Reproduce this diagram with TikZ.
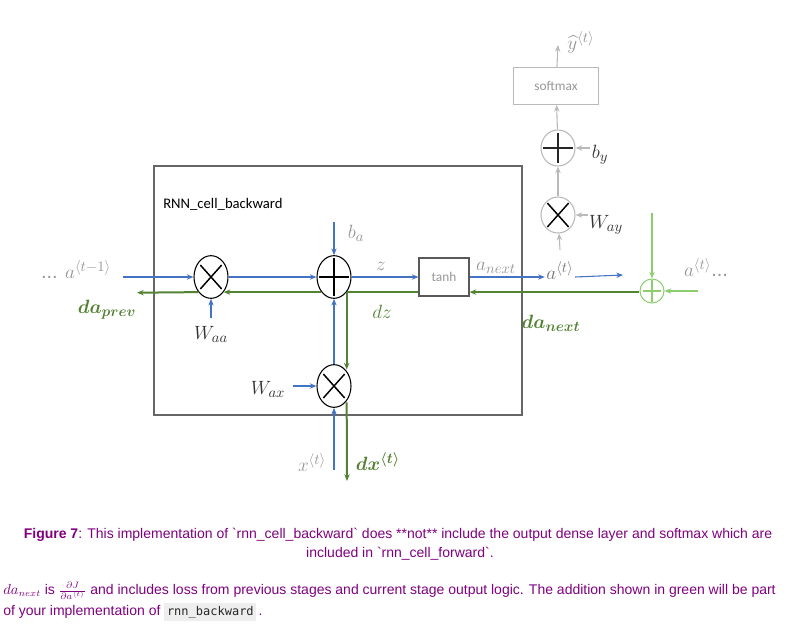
\documentclass[tikz,border=0pt]{standalone}
\usepackage{amsmath,bm}
\usepackage{fontspec}
\setmainfont{Liberation Sans}
\setmonofont{DejaVu Sans Mono}
\newfontfamily\carlito{Carlito}
\usetikzlibrary{shapes.geometric,arrows.meta}
\definecolor{blu}{RGB}{68,114,196}
\definecolor{grn}{RGB}{84,130,53}
\definecolor{lgrn}{RGB}{140,205,110}
\definecolor{txtgray}{RGB}{150,150,150}
\definecolor{fadegray}{RGB}{185,185,185}
\definecolor{capcol}{RGB}{128,0,128}
\definecolor{codebg}{RGB}{238,238,238}
\newcommand\lblsize{\fontsize{15}{18}\selectfont}
\newcommand\capsize{\fontsize{10.5}{12}\selectfont}

\begin{document}
\begin{tikzpicture}[x=0.75pt, y=-0.75pt, >={Stealth[length=5pt,width=4pt]},
    mul/.style={ellipse, draw, thick, minimum width=25.5pt, minimum height=32pt, inner sep=0pt,
      path picture={\draw[black, line width=1.1pt] ([shift={(-8pt,-9pt)}]path picture bounding box.center) -- ([shift={(8pt,9pt)}]path picture bounding box.center);
        \draw[black, line width=1.1pt] ([shift={(-8pt,9pt)}]path picture bounding box.center) -- ([shift={(8pt,-9pt)}]path picture bounding box.center);}},
    add/.style={ellipse, draw, thick, minimum width=25.5pt, minimum height=32pt, inner sep=0pt,
      path picture={\draw[black, line width=1.3pt] ([xshift=-11pt]path picture bounding box.center) -- ([xshift=11pt]path picture bounding box.center);
        \draw[black, line width=1.3pt] ([yshift=-14pt]path picture bounding box.center) -- ([yshift=14pt]path picture bounding box.center);}},
    box/.style={draw, inner sep=0pt, font=\carlito\normalsize, text=txtgray},
    lbl/.style={font=\lblsize, text=txtgray, inner sep=1pt},
    dlbl/.style={font=\lblsize, text=black!80, inner sep=1pt},
    glbl/.style={font=\lblsize, text=grn, inner sep=1pt},
    bl/.style={->, blu, line width=0.8pt},
    gr/.style={grn, line width=1.5pt},
    gy/.style={->, fadegray, line width=0.8pt}]

    \useasboundingbox (0,0) rectangle (799,632);

    % cell
    \draw[black!60, line width=1.6pt] (154,166) rectangle (522,415);
    \node[anchor=west, font=\carlito\fontsize{11}{13}\selectfont, inner sep=0pt] (title) at (163,204) {RNN\_cell\_backward};

    % gates
    \node[mul] (mulA) at (211,277) {};
    \node[add] (plusA) at (334,277) {};
    \node[box, draw=black!65, thick, minimum width=37.5pt, minimum height=28.5pt] (tanh) at (444,277) {tanh};
    \node[mul] (mulX) at (334,386) {};

    % output layer
    \node[mul, draw=fadegray, minimum height=27pt] (mulY) at (558,215) {};
    \node[add, draw=fadegray, minimum height=27pt,
      path picture={\draw[black!85, line width=1.3pt] ([xshift=-11pt]path picture bounding box.center) -- ([xshift=11pt]path picture bounding box.center);
        \draw[black!85, line width=1.3pt] ([yshift=-11pt]path picture bounding box.center) -- ([yshift=11pt]path picture bounding box.center);}] (plusY) at (558,148) {};
    \node[box, draw=fadegray, minimum width=64pt, minimum height=28pt] (soft) at (556,86) {softmax};
    \node[circle, draw=lgrn, thick, minimum size=18pt, inner sep=0pt,
      path picture={\draw[lgrn, thick] ([xshift=-7pt]path picture bounding box.center) -- ([xshift=7pt]path picture bounding box.center);
        \draw[lgrn, thick] ([yshift=-8pt]path picture bounding box.center) -- ([yshift=8pt]path picture bounding box.center);}] (gplus) at (652,291) {};

    % labels
    \node[lbl] (aprev) at (76,270) {... $a^{\langle t-1\rangle}$};
    \node[glbl] (daprev) at (107,310) {$\bm{da_{prev}}$};
    \node[dlbl] (Waa) at (211,334) {$W_{aa}$};
    \node[dlbl] (Wax) at (268,389) {$W_{ax}$};
    \node[lbl] (ba) at (356,233) {$b_a$};
    \node[lbl] (z) at (381,266) {$z$};
    \node[lbl] (anext) at (496,268) {$a_{next}$};
    \node[glbl] (dz) at (382,312) {$dz$};
    \node[glbl] (danext) at (551,323) {$\bm{da_{next}}$};
    \node[font=\lblsize, text=black!55, inner sep=1pt] (at) at (560,271) {$a^{\langle t\rangle}$};
    \node[lbl] (atdots) at (706,268) {$a^{\langle t\rangle}$...};
    \node[dlbl] (Way) at (606,225) {$W_{ay}$};
    \node[dlbl] (by) at (600,155) {$b_y$};
    \node[lbl] (yhat) at (581,42) {$\widehat{y}^{\langle t\rangle}$};
    \node[lbl] (xt) at (312,463) {$x^{\langle t\rangle}$};
    \node[glbl] (dxt) at (378,462) {$\bm{dx^{\langle t\rangle}}$};

    % free ends
    \coordinate (aprevS) at (123,277);
    \coordinate (baS) at (334,222);
    \coordinate (WaaS) at (211,318);
    \coordinate (WaxS) at (293,386);
    \coordinate (xS) at (334,470);
    \coordinate (dxE) at (347,481);
    \coordinate (dapE) at (137,292.7);
    \coordinate (atE) at (623,275);
    \coordinate (yE) at (558,45);
    \coordinate (gtop) at (652,213);
    \coordinate (gright) at (698,291);
    \coordinate (gjoin) at (plusA.-50);

    % forward (blue)
    \draw[bl] (aprevS) -- (mulA);
    \draw[bl] (mulA) -- (plusA);
    \draw[bl] (plusA) -- (tanh);
    \draw[bl] (tanh.east) -- (at.west |- tanh.east);
    \draw[bl] (at.east |- tanh.east) -- (atE);
    \draw[bl] (baS) -- (plusA);
    \draw[bl] (WaaS) -- (mulA);
    \draw[bl] (WaxS) -- (mulX);
    \draw[bl] (xS) -- (mulX);
    \draw[bl] (mulX) -- (plusA);

    % output layer (grey)
    \draw[gy] ([yshift=8pt]at.north) -- (mulY);
    \draw[gy] (mulY) -- (plusY);
    \draw[gy] (plusY) -- (soft);
    \draw[gy] (soft) -- (yE);
    \draw[gy] (Way.west |- mulY) -- (mulY);
    \draw[gy] (by.west |- plusY) -- (plusY);

    % backward (green)
    \draw[gr, ->] (gplus.west |- gjoin) -- (tanh.east |- gjoin);
    \draw[gr] (tanh.west |- gjoin) -- (gjoin);
    \draw[gr, ->] (plusA.-130) -- (mulA.-50);
    \draw[gr, ->] (mulA.-130) -- (dapE);
    \draw[gr, ->] (gjoin) -- (gjoin |- mulX.55);
    \draw[gr, ->] (gjoin |- mulX.-55) -- (dxE);
    \draw[lgrn, thick, ->] (gtop) -- (gplus);
    \draw[lgrn, thick, ->] (gright) -- (gplus);

    % caption
    \node[text=capcol, font=\capsize, inner sep=0pt] (cap1) at (398,535)
      {\textbf{Figure 7}: This implementation of \textasciigrave rnn\_cell\_backward\textasciigrave{} does **not** include the output dense layer and softmax which are};
    \node[text=capcol, font=\capsize, inner sep=0pt] (cap2) at (400,554)
      {included in \textasciigrave rnn\_cell\_forward\textasciigrave.};
    \node[text=capcol, font=\capsize, anchor=west, inner sep=0pt] (note1) at (3,591)
      {$da_{next}$ is $\frac{\partial J}{\partial a^{\langle t\rangle}}$ and includes loss from previous stages and current stage output logic. The addition shown in green will be part};
    \node[text=capcol, font=\capsize, anchor=west, inner sep=0pt] (note2) at (3,612)
      {of your implementation of \fboxsep=2pt\colorbox{codebg}{\color{black!85}\ttfamily\small rnn\_backward}\,.};
\end{tikzpicture}
\end{document}
